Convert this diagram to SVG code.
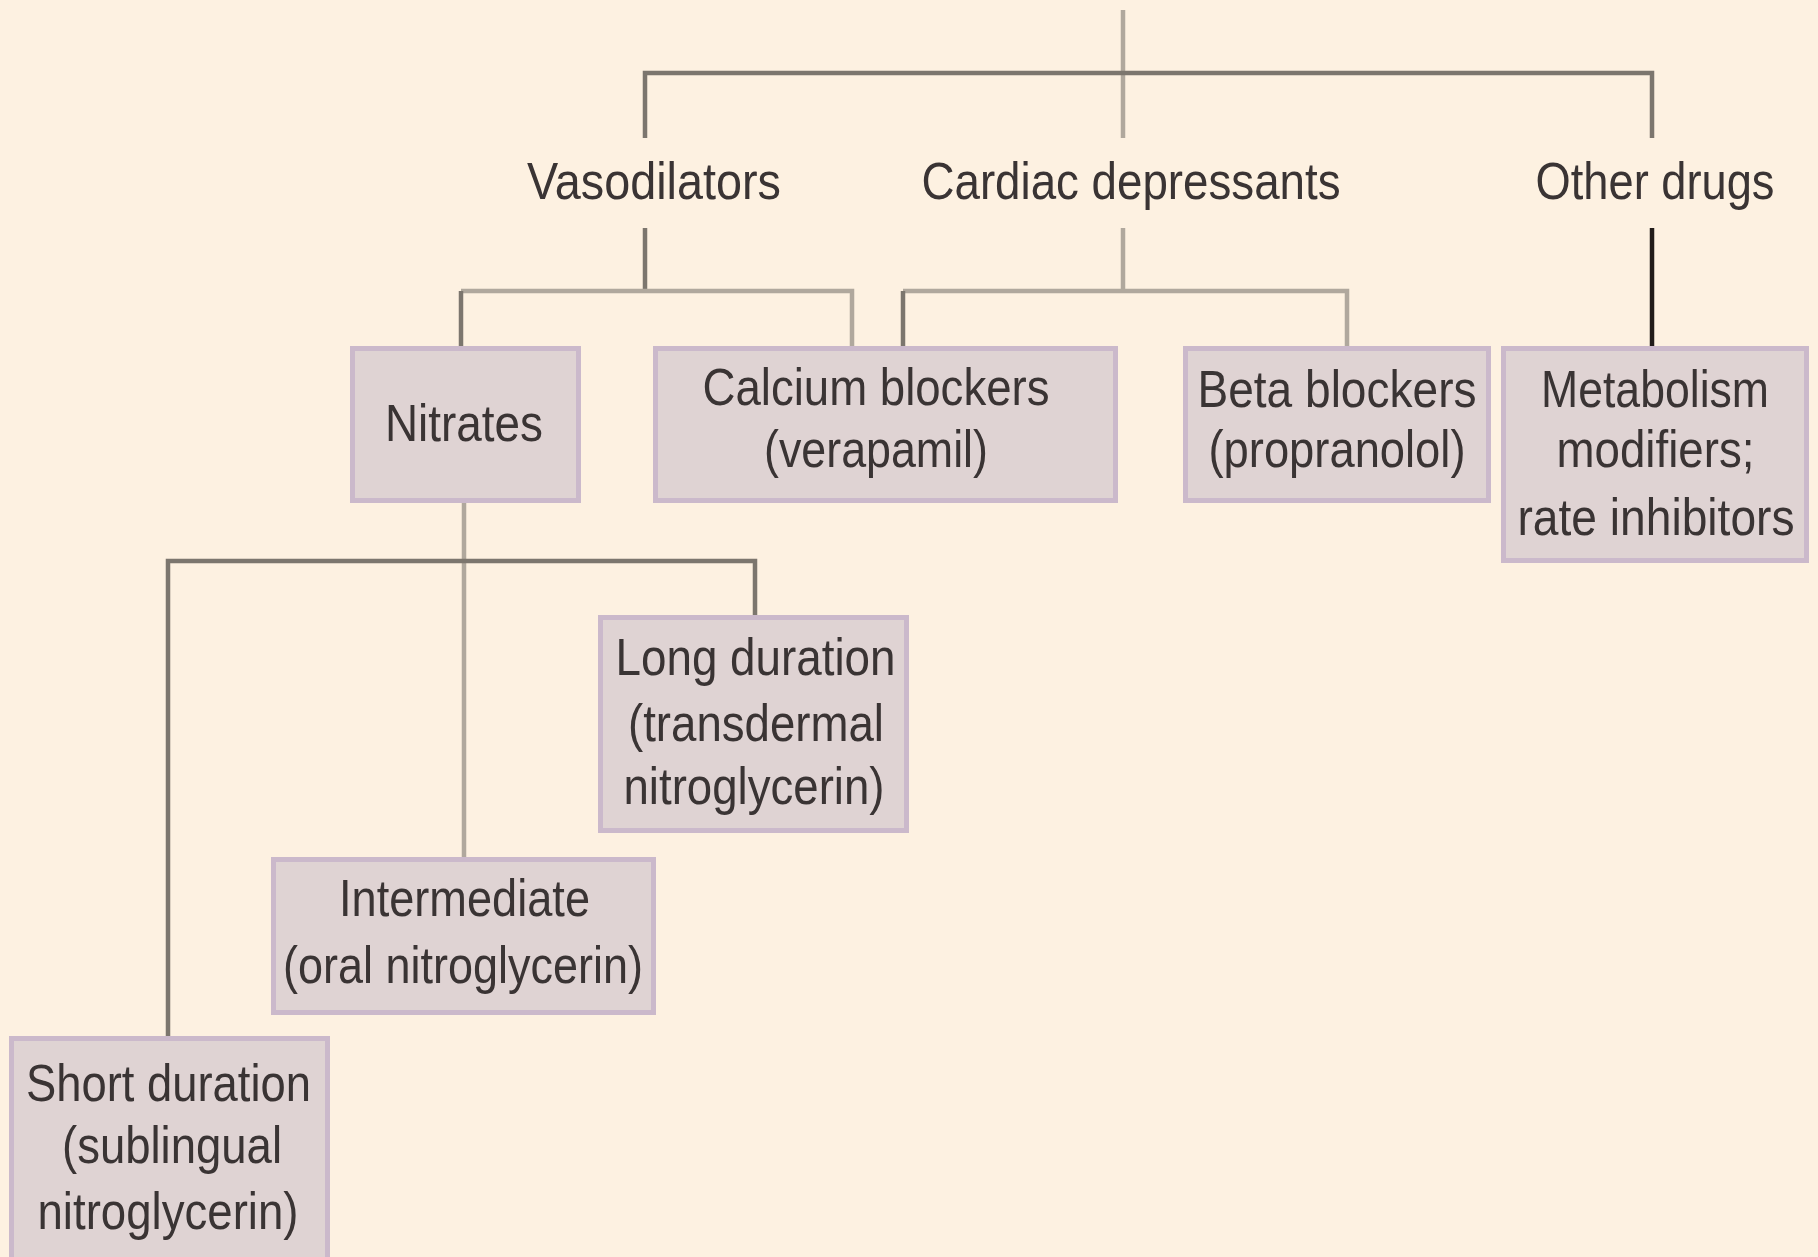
<svg xmlns="http://www.w3.org/2000/svg" width="1818" height="1257" viewBox="0 0 1818 1257">
<style>
.bg{fill:#fdf1e1}
.box{fill:#dfd3d3;stroke:#cbb9cb;stroke-width:5}
.t{font-family:"Liberation Sans",Arial,sans-serif;font-size:52px;fill:#3a3434;text-anchor:middle}
.d{stroke:#7c766e;stroke-width:4.5;fill:none}
.l{stroke:#b0a89d;stroke-width:4.5;fill:none}
.k{stroke:#221c1a;stroke-width:4.5;fill:none}
</style>
<rect class="bg" x="0" y="0" width="1818" height="1257"/>
<g id="connectors">
<path class="l" d="M1123 10V138"/>
<path class="d" d="M645 138V73H1652V138"/>
<path class="d" d="M645 228V291"/>
<path class="l" d="M461 291H852V348"/>
<path class="d" d="M461 291V348"/>
<path class="l" d="M1123 228V291"/>
<path class="l" d="M903 291H1347V348"/>
<path class="d" d="M903 291V348"/>
<path class="k" d="M1652 228V348"/>
<path class="l" d="M464 503V857"/>
<path class="d" d="M168 1037V561H755V617"/>
</g>
<g id="vasodilators"><text class="t" x="654" y="199" textLength="254" lengthAdjust="spacingAndGlyphs">Vasodilators</text></g>
<g id="cardiac"><text class="t" x="1131" y="199" textLength="419" lengthAdjust="spacingAndGlyphs">Cardiac depressants</text></g>
<g id="other"><text class="t" x="1655" y="199" textLength="239" lengthAdjust="spacingAndGlyphs">Other drugs</text></g>
<g id="nitrates"><rect class="box" x="352.5" y="348.5" width="226" height="152"/>
<text class="t" x="464" y="441" textLength="158" lengthAdjust="spacingAndGlyphs">Nitrates</text></g>
<g id="calcium"><rect class="box" x="655.5" y="348.5" width="460" height="152"/>
<text class="t" x="876" y="405" textLength="347" lengthAdjust="spacingAndGlyphs">Calcium blockers</text>
<text class="t" x="876" y="467" textLength="224" lengthAdjust="spacingAndGlyphs">(verapamil)</text></g>
<g id="beta"><rect class="box" x="1185.5" y="348.5" width="303" height="152"/>
<text class="t" x="1337" y="407" textLength="279" lengthAdjust="spacingAndGlyphs">Beta blockers</text>
<text class="t" x="1337" y="467" textLength="257" lengthAdjust="spacingAndGlyphs">(propranolol)</text></g>
<g id="metabolism"><rect class="box" x="1503.5" y="348.5" width="303" height="212"/>
<text class="t" x="1655" y="407" textLength="228" lengthAdjust="spacingAndGlyphs">Metabolism</text>
<text class="t" x="1655.5" y="467" textLength="198" lengthAdjust="spacingAndGlyphs">modifiers;</text>
<text class="t" x="1656" y="535" textLength="277" lengthAdjust="spacingAndGlyphs">rate inhibitors</text></g>
<g id="long"><rect class="box" x="600.5" y="617.5" width="306" height="213"/>
<text class="t" x="755.5" y="675" textLength="280" lengthAdjust="spacingAndGlyphs">Long duration</text>
<text class="t" x="756" y="741" textLength="256" lengthAdjust="spacingAndGlyphs">(transdermal</text>
<text class="t" x="754" y="804" textLength="261" lengthAdjust="spacingAndGlyphs">nitroglycerin)</text></g>
<g id="intermediate"><rect class="box" x="273.5" y="859.5" width="380" height="153"/>
<text class="t" x="464.5" y="916" textLength="251" lengthAdjust="spacingAndGlyphs">Intermediate</text>
<text class="t" x="463" y="983" textLength="360" lengthAdjust="spacingAndGlyphs">(oral nitroglycerin)</text></g>
<g id="short"><rect class="box" x="11.5" y="1038.5" width="316" height="230"/>
<text class="t" x="168.5" y="1101" textLength="285" lengthAdjust="spacingAndGlyphs">Short duration</text>
<text class="t" x="172" y="1163" textLength="220" lengthAdjust="spacingAndGlyphs">(sublingual</text>
<text class="t" x="168" y="1229" textLength="261" lengthAdjust="spacingAndGlyphs">nitroglycerin)</text></g>
</svg>
